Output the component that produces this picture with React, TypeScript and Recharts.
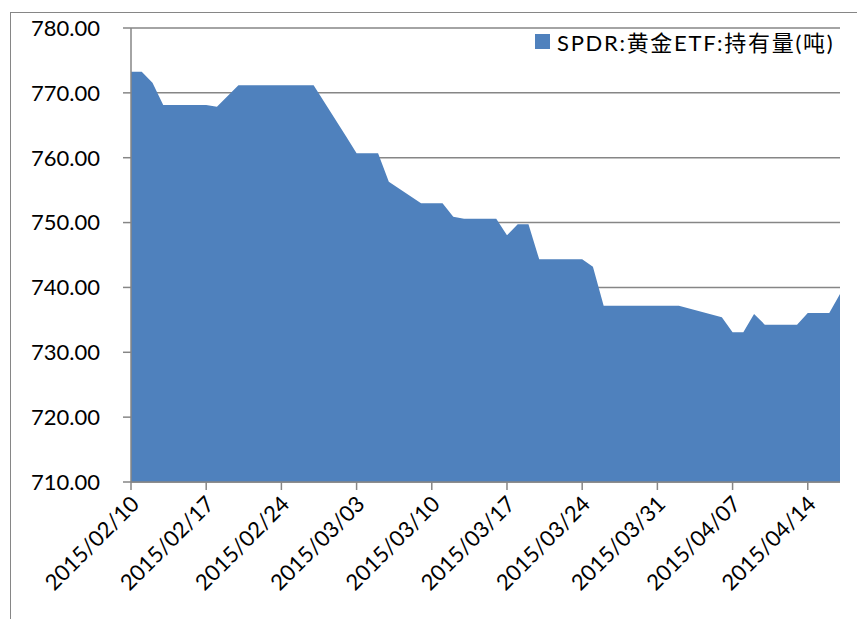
import React from 'react';
import { AreaChart, Area, XAxis, YAxis, CartesianGrid } from 'recharts';

const dates = [
  '2015/02/10', '2015/02/11', '2015/02/12', '2015/02/13', '2015/02/17', '2015/02/18', '2015/02/19',
  '2015/02/20', '2015/02/23', '2015/02/24', '2015/02/25', '2015/02/26', '2015/02/27', '2015/03/02',
  '2015/03/03', '2015/03/04', '2015/03/05', '2015/03/06', '2015/03/09', '2015/03/10', '2015/03/11',
  '2015/03/12', '2015/03/13', '2015/03/16', '2015/03/17', '2015/03/18', '2015/03/19', '2015/03/20',
  '2015/03/23', '2015/03/24', '2015/03/25', '2015/03/26', '2015/03/27', '2015/03/30', '2015/03/31',
  '2015/04/01', '2015/04/02', '2015/04/06', '2015/04/07', '2015/04/08', '2015/04/09', '2015/04/10',
  '2015/04/13', '2015/04/14', '2015/04/15', '2015/04/16', '2015/04/17',
];

const holdings = [
  773.26, 773.26, 771.57, 768.13, 768.13, 767.87, 769.5,
  771.16, 771.16, 771.16, 771.16, 771.16, 771.16, 763.36,
  760.68, 760.68, 760.68, 756.3, 752.97, 752.97, 752.97,
  750.91, 750.6, 750.6, 748.03, 749.73, 749.73, 744.33,
  744.33, 744.33, 743.2, 737.18, 737.18, 737.18, 737.18,
  737.18, 737.18, 735.39, 733.08, 733.08, 735.9, 734.26,
  734.26, 736.06, 736.06, 736.06, 738.99,
];

const xTickLabels = [
  '2015/02/10', '2015/02/17', '2015/02/24', '2015/03/03', '2015/03/10',
  '2015/03/17', '2015/03/24', '2015/03/31', '2015/04/07', '2015/04/14',
];

const yTicks = [710, 720, 730, 740, 750, 760, 770, 780];

const seriesName = 'SPDR:黄金ETF:持有量(吨)';

const FONT = 'Lato, "Noto Sans CJK SC", sans-serif';
const BLUE = '#4F81BD';
const GRAY = '#868686';

const toUtc = (s: string) => {
  const [y, m, d] = s.split('/').map(Number);
  return Date.UTC(y, m - 1, d);
};
const base = toUtc(dates[0]);
const dayOf = (s: string) => Math.round((toUtc(s) - base) / 86400000);

const data = dates.map((d, i) => ({ day: dayOf(d), label: d, value: holdings[i] }));
const xTicks = xTickLabels.map(dayOf);

const DateTick = ({ x, y, payload }: any) => {
  const label = xTickLabels[xTicks.indexOf(payload.value)] ?? '';
  return (
    <g transform={`translate(${x + 4},${y + 8})`}>
      <text
        transform="rotate(-45)"
        textAnchor="end"
        dy="0.35em"
        fill="#000"
        style={{ fontFamily: FONT, fontSize: 22 }}
      >
        {label}
      </text>
    </g>
  );
};

const App: React.FC = () => {
  return (
    <div style={{ position: 'relative', width: 857, height: 611, overflow: 'hidden', fontFamily: FONT }}>
      <div
        style={{
          position: 'absolute',
          left: 2,
          top: 4,
          width: 900,
          height: 700,
          borderTop: `1px solid ${GRAY}`,
          borderLeft: `1px solid ${GRAY}`,
        }}
      />
      <div style={{ position: 'absolute', left: 0, top: 0 }}>
        <AreaChart width={857} height={611} data={data} margin={{ top: 20, right: 25, left: 0, bottom: 0 }}>
          <CartesianGrid horizontal vertical={false} stroke={GRAY} strokeWidth={1.5} />
          <Area
            type="linear"
            dataKey="value"
            stroke="none"
            fill={BLUE}
            fillOpacity={1}
            isAnimationActive={false}
          />
          <XAxis
            dataKey="day"
            type="number"
            domain={[0, dayOf(dates[dates.length - 1])]}
            ticks={xTicks}
            interval={0}
            height={137}
            stroke={GRAY}
            strokeWidth={1.5}
            tickSize={8}
            tick={<DateTick />}
          />
          <YAxis
            type="number"
            domain={[710, 780]}
            ticks={yTicks}
            interval={0}
            width={123}
            stroke={GRAY}
            strokeWidth={1.5}
            tickSize={8}
            tickMargin={23}
            tickFormatter={(v: number) => v.toFixed(2)}
            tick={{ fill: '#000', fontSize: 22, fontFamily: FONT }}
          />
        </AreaChart>
      </div>
      <div
        style={{
          position: 'absolute',
          left: 527,
          top: 17,
          display: 'flex',
          alignItems: 'center',
          gap: 7,
          fontSize: 22,
          letterSpacing: 1.7,
          color: '#000',
          whiteSpace: 'nowrap',
        }}
      >
        <div style={{ width: 15, height: 15, background: BLUE }} />
        <span>{seriesName}</span>
      </div>
    </div>
  );
};

export default App;
